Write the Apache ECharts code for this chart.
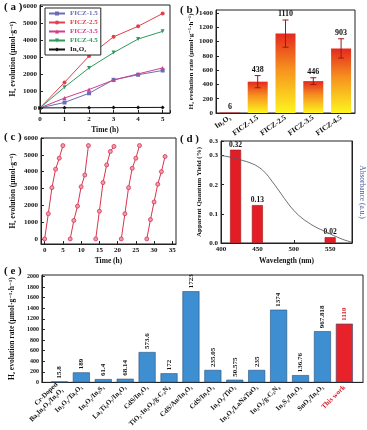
<!DOCTYPE html>
<html><head><meta charset="utf-8">
<script src="https://cdn.jsdelivr.net/npm/echarts@6/dist/echarts.min.js"></script>
<style>html,body{margin:0;padding:0;background:#fff}#c{width:367px;height:430px}</style>
</head><body><div id="c"></div>
<script>
// ---- Panel (a) ----
const aTime = [0, 1, 2, 3, 4, 5];
const aFICZ15 = [0, 320, 860, 1650, 1950, 2200];
const aFICZ25 = [0, 1500, 3050, 4180, 4800, 5550];
const aFICZ35 = [0, 580, 1080, 1640, 2000, 2350];
const aFICZ45 = [0, 1220, 2350, 3250, 4050, 4500];
const aIn2O3 = [0, 6, 12, 18, 24, 30];
const aYTicks = [0, 1000, 2000, 3000, 4000, 5000, 6000];
// ---- Panel (b) ----
const bCats = ['In₂O₃', 'FICZ-1.5', 'FICZ-2.5', 'FICZ-3.5', 'FICZ-4.5'];
const bRates = [6, 438, 1110, 446, 903];
const bErr = [0, 85, 190, 47, 135];
const bYTicks = [0, 200, 400, 600, 800, 1000, 1200, 1400];
// ---- Panel (c) ----
const cTime1 = [0, 1, 2, 3, 4, 5];
const cH2_1 = [0, 1500, 3050, 4150, 4800, 5550];
const cTime2 = [7, 8, 9, 10, 11, 12];
const cH2_2 = [0, 1100, 1950, 3100, 3800, 5550];
const cTime3 = [14, 15, 16, 17, 18, 19];
const cH2_3 = [0, 1650, 3350, 4400, 5200, 5500];
const cTime4 = [21, 22, 23, 24, 25, 26];
const cH2_4 = [0, 1500, 3050, 4200, 4800, 5550];
const cTime5 = [28, 29, 30, 31, 32, 33];
const cH2_5 = [0, 1150, 2200, 3250, 4000, 4900];
const cXTicks = [0, 5, 10, 15, 20, 25, 30, 35];
const cYTicks = [0, 1000, 2000, 3000, 4000, 5000, 6000];
// ---- Panel (d) ----
const dWave = [420, 450, 550];
const dAQY = [0.32, 0.13, 0.02];
const absWave = [400, 410, 420, 430, 440, 450, 460, 470, 480, 490, 500, 510, 520, 530, 540, 550, 560, 570, 580];
const absVal = [0.300, 0.296, 0.290, 0.283, 0.275, 0.263, 0.243, 0.212, 0.178, 0.143, 0.112, 0.088, 0.070, 0.055, 0.043, 0.031, 0.020, 0.010, 0.003];
// ---- Panel (e) ----
const eCats = ['Cr-Doped\nBa₂In₂O₅/In₂O₃', 'In₂O₃/Ta₂O₅', 'In₂O₃/In₂S₃', 'La₂Ti₂O₇/In₂O₃', 'CdS/In₂O₃',
  'TiO₂-In₂O₃/g-C₃N₄', 'CdS/Au/In₂O₃', 'CdS/In₂O₃', 'In₂O₃/TiO₂', 'In₂O₃/LaNaTaO₃', 'In₂O₃/g-C₃N₄',
  'In₂S₃/In₂O₃', 'SnO₂/In₂O₃', 'This work'];
const eRates = [15.8, 189, 61.4, 68.14, 573.6, 172, 1723, 235.05, 50.575, 235, 1374, 136.76, 967.818, 1110];
const eYTicks = [0, 200, 400, 600, 800, 1000, 1200, 1400, 1600, 1800, 2000];

const FF = '"Liberation Serif", "DejaVu Serif", serif';
const tick = {show: true, inside: true, length: 3, lineStyle: {color: '#222'}};
const axLine = {show: true, onZero: false, lineStyle: {color: '#222', width: 1}};
const lab = (extra) => Object.assign({fontFamily: FF, fontWeight: 'bold', fontSize: 7, color: '#111', margin: 3,
  formatter: v => String(v)}, extra || {});
const nameStyle = (extra) => Object.assign({fontFamily: FF, fontWeight: 'bold', fontSize: 7.5, color: '#111'}, extra || {});
const gridBox = {show: true, borderColor: '#222', borderWidth: 1, backgroundColor: 'transparent'};

const chart = echarts.init(document.getElementById('c'), null, {renderer: 'canvas'});

const aColors = ['#6a6cb8', '#e2404c', '#cf3f8c', '#2f9a5c', '#111111'];
const aNames = ['FICZ-1.5', 'FICZ-2.5', 'FICZ-3.5', 'FICZ-4.5', 'In₂O₃'];
const aData = [aFICZ15, aFICZ25, aFICZ35, aFICZ45, aIn2O3];
const aSymbols = ['rect', 'circle', 'triangle', 'path://M0,0 L10,0 L5,10 Z', 'diamond'];

const series = [];
aData.forEach((arr, i) => {
  series.push({
    name: aNames[i], type: 'line', xAxisIndex: 0, yAxisIndex: 0,
    data: aTime.map((t, k) => [t, arr[k]]),
    symbol: aSymbols[i], symbolSize: 4, lineStyle: {width: 1, color: aColors[i]},
    itemStyle: {color: aColors[i]}, z: 3
  });
});

// panel b bars
const grad = {type: 'linear', x: 0, y: 0, x2: 0, y2: 1, colorStops: [
  {offset: 0, color: '#e4281f'}, {offset: 0.45, color: '#f6921e'}, {offset: 1, color: '#fdf51e'}]};
series.push({
  type: 'bar', xAxisIndex: 1, yAxisIndex: 1, data: bRates, barWidth: 20,
  itemStyle: {color: grad}
});
series.push({
  type: 'custom', xAxisIndex: 1, yAxisIndex: 1, z: 5,
  data: bRates.map((v, i) => [i, v, bErr[i]]),
  renderItem: function (params, api) {
    const x = api.value(0), v = api.value(1), e = api.value(2);
    const top = api.coord([x, v + e]);
    const bot = api.coord([x, v - e]);
    const ch = [];
    if (e > 0) {
      const st = {stroke: '#9a1a12', lineWidth: 1};
      ch.push({type: 'line', shape: {x1: top[0], y1: top[1], x2: bot[0], y2: bot[1]}, style: st});
      ch.push({type: 'line', shape: {x1: top[0] - 3, y1: top[1], x2: top[0] + 3, y2: top[1]}, style: st});
      ch.push({type: 'line', shape: {x1: bot[0] - 3, y1: bot[1], x2: bot[0] + 3, y2: bot[1]}, style: st});
    }
    ch.push({type: 'text', x: top[0], y: top[1] - 2, style: {text: String(v), align: 'center', verticalAlign: 'bottom',
      font: 'bold 8px ' + FF, fill: '#111'}});
    return {type: 'group', children: ch};
  }
});

// panel c
const cSets = [[cTime1, cH2_1], [cTime2, cH2_2], [cTime3, cH2_3], [cTime4, cH2_4], [cTime5, cH2_5]];
cSets.forEach(s => {
  series.push({
    type: 'line', xAxisIndex: 2, yAxisIndex: 2,
    data: s[0].map((t, k) => [t, s[1][k]]),
    symbol: 'circle', symbolSize: 4,
    lineStyle: {width: 1, color: '#d8344e'},
    itemStyle: {color: '#ee9ab0', borderColor: '#d8344e', borderWidth: 0.8}
  });
});

// panel d
series.push({
  type: 'bar', xAxisIndex: 3, yAxisIndex: 3, barWidth: 11,
  data: dWave.map((w, i) => [w, dAQY[i]]),
  itemStyle: {color: '#e31d25', borderColor: '#a01418', borderWidth: 0.6},
  label: {show: true, position: 'top', distance: 1, fontFamily: FF, fontWeight: 'bold', fontSize: 7.5, color: '#111',
    formatter: p => p.value[1].toFixed(2)}
});
series.push({
  type: 'line', xAxisIndex: 3, yAxisIndex: 4, smooth: true, symbol: 'none',
  data: absWave.map((w, i) => [w, absVal[i]]),
  lineStyle: {color: '#555a66', width: 0.9}, z: 4
});

// panel e
series.push({
  type: 'bar', xAxisIndex: 4, yAxisIndex: 5, barWidth: 17,
  data: eRates.map((v, i) => ({value: [i, v], itemStyle: {color: i === eRates.length - 1 ? '#e8222b' : '#3d8fd1'},
    label: {color: i === eRates.length - 1 ? '#d8202a' : '#111'}})),
  itemStyle: {borderColor: '#2a4f78', borderWidth: 0.6},
  label: {show: true, position: 'top', rotate: 90, align: 'left', verticalAlign: 'middle', distance: 3,
    fontFamily: FF, fontWeight: 'bold', fontSize: 7, formatter: p => String(p.value[1])}
});

const option = {
  animation: false,
  backgroundColor: '#fff',
  textStyle: {fontFamily: FF},
  grid: [
    Object.assign({left: 40, top: 5, width: 130, height: 108}, gridBox),
    Object.assign({left: 216, top: 10, width: 139, height: 103}, gridBox),
    Object.assign({left: 41, top: 138, width: 135, height: 106}, gridBox),
    Object.assign({left: 221, top: 141, width: 131, height: 102}, gridBox),
    Object.assign({left: 39, top: 275, width: 324, height: 112}, gridBox)
  ],
  legend: {
    left: 45, top: 8, orient: 'vertical', itemWidth: 16, itemHeight: 5, itemGap: 2,
    borderColor: '#222', borderWidth: 1, padding: [2, 3, 2, 3], backgroundColor: '#fff',
    textStyle: {fontFamily: FF, fontWeight: 'bold', fontSize: 7},
    data: aNames.map((n, i) => ({name: n, textStyle: {color: i === 4 ? '#111' : aColors[i]}}))
  },
  xAxis: [
    {gridIndex: 0, type: 'value', min: 0, max: 5.3, interval: 1, axisLine: axLine, axisTick: tick,
      splitLine: {show: false}, axisLabel: lab({customValues: [0, 1, 2, 3, 4, 5]}),
      name: 'Time (h)', nameLocation: 'middle', nameGap: 13, nameTextStyle: nameStyle()},
    {gridIndex: 1, type: 'category', data: bCats, axisLine: axLine, axisTick: {show: false},
      axisLabel: lab({rotate: 35, margin: 4, fontSize: 7.5, fontWeight: 'bold'})},
    {gridIndex: 2, type: 'value', min: -1, max: 36, axisLine: axLine,
      axisTick: Object.assign({customValues: cXTicks}, tick), splitLine: {show: false},
      axisLabel: lab({customValues: cXTicks}),
      name: 'Time (h)', nameLocation: 'middle', nameGap: 13, nameTextStyle: nameStyle()},
    {gridIndex: 3, type: 'value', min: 400, max: 580, interval: 50, axisLine: axLine, axisTick: tick,
      splitLine: {show: false}, axisLabel: lab({showMaxLabel: false}),
      name: 'Wavelength (nm)', nameLocation: 'middle', nameGap: 14, nameTextStyle: nameStyle()},
    {gridIndex: 4, type: 'value', min: -0.8, max: 13.85, axisLine: axLine,
      axisTick: {show: false}, splitLine: {show: false},
      axisLabel: lab({customValues: eCats.map((c, i) => i), rotate: 45, fontSize: 7, margin: 4, lineHeight: 8,
        formatter: v => (v === eCats.length - 1 ? '{r|' + eCats[v] + '}' : eCats[v]),
        rich: {r: {color: '#d8202a', fontFamily: FF, fontWeight: 'bold', fontSize: 7}}})}
  ],
  yAxis: [
    {gridIndex: 0, type: 'value', min: -300, max: 6050, axisLine: axLine,
      axisTick: Object.assign({customValues: aYTicks}, tick), splitLine: {show: false},
      axisLabel: lab({customValues: aYTicks}),
      name: 'H₂ evolution (μmol·g⁻¹)', nameLocation: 'middle', nameGap: 23, nameTextStyle: nameStyle()},
    {gridIndex: 1, type: 'value', min: 0, max: 1440, axisLine: axLine,
      axisTick: Object.assign({customValues: bYTicks}, tick), splitLine: {show: false},
      axisLabel: lab({customValues: bYTicks}),
      name: 'H₂ evolution rate (μmol·g⁻¹·h⁻¹)', nameLocation: 'middle', nameGap: 21, nameTextStyle: nameStyle({fontSize: 7})},
    {gridIndex: 2, type: 'value', min: -300, max: 6000, axisLine: axLine,
      axisTick: Object.assign({customValues: cYTicks}, tick), splitLine: {show: false},
      axisLabel: lab({customValues: cYTicks}),
      name: 'H₂ evolution (μmol·g⁻¹)', nameLocation: 'middle', nameGap: 24, nameTextStyle: nameStyle()},
    {gridIndex: 3, type: 'value', min: 0, max: 0.35, interval: 0.1, axisLine: axLine, axisTick: tick,
      splitLine: {show: false}, axisLabel: lab({formatter: v => v.toFixed(1)}),
      name: 'Apparent Quantum Yield (%)', nameLocation: 'middle', nameGap: 18, nameTextStyle: nameStyle({fontSize: 7})},
    {gridIndex: 3, type: 'value', position: 'right', min: 0, max: 0.35, axisLine: axLine,
      axisTick: {show: false}, axisLabel: {show: false}, splitLine: {show: false},
      name: 'Absorbance (a.u.)', nameLocation: 'middle', nameGap: 6, nameRotate: -90,
      nameTextStyle: nameStyle({color: '#4b5c9c', fontWeight: 'normal', fontSize: 7.5})},
    {gridIndex: 4, type: 'value', min: 0, max: 2030, axisLine: axLine,
      axisTick: Object.assign({customValues: eYTicks}, tick), splitLine: {show: false},
      axisLabel: lab({customValues: eYTicks, fontSize: 6}),
      name: 'H₂ evolution rate (μmol·g⁻¹·h⁻¹)', nameLocation: 'middle', nameGap: 21, nameTextStyle: nameStyle({fontSize: 7.5})}
  ],
  graphic: [
    {type: 'text', left: 4, top: 2, style: {text: '( a )', font: 'bold 11px ' + FF, fill: '#111'}},
    {type: 'text', left: 180, top: 5, style: {text: '( b )', font: 'bold 11px ' + FF, fill: '#111'}},
    {type: 'text', left: 4, top: 132, style: {text: '( c )', font: 'bold 11px ' + FF, fill: '#111'}},
    {type: 'text', left: 180, top: 134, style: {text: '( d )', font: 'bold 11px ' + FF, fill: '#111'}},
    {type: 'text', left: 4, top: 266, style: {text: '( e )', font: 'bold 11px ' + FF, fill: '#111'}}
  ],
  series: series
};
chart.setOption(option);
</script>
</body></html>
